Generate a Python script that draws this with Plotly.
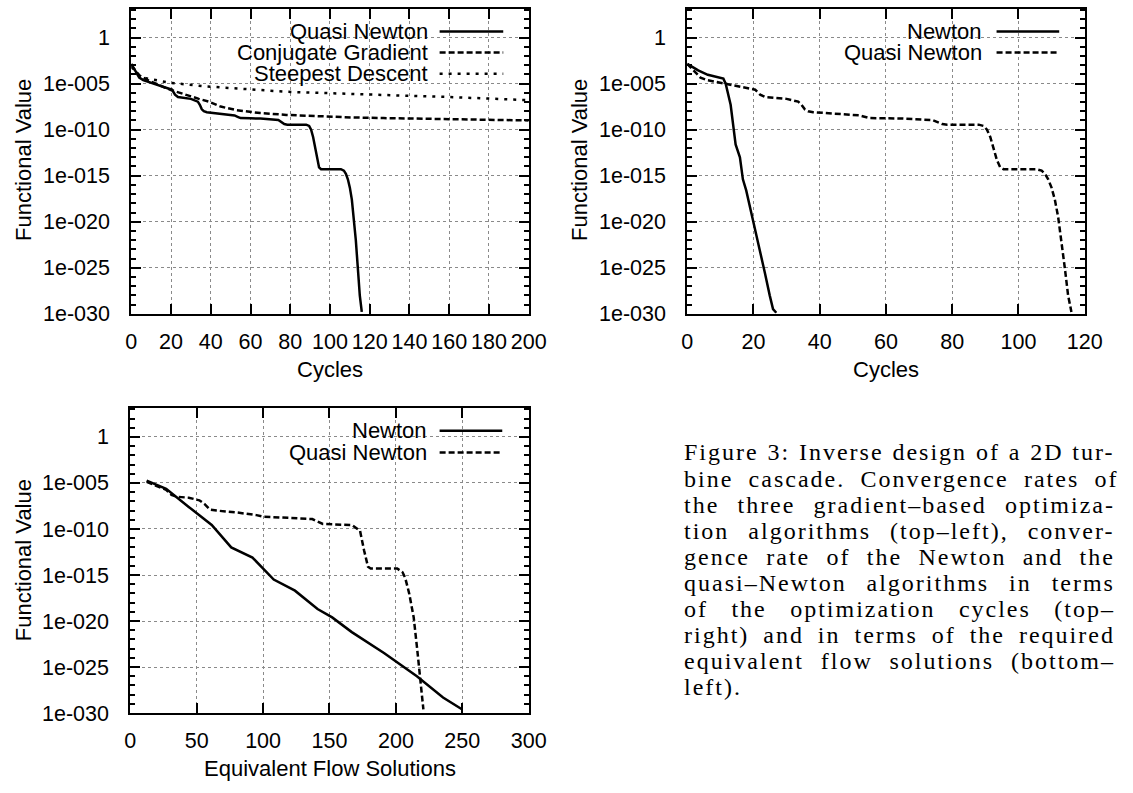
import plotly.graph_objects as go

W, H = 1133, 793

# ---------------- data ----------------
# top-left / top-right : functional value vs optimisation cycles
cycles_qn = [0, 1, 2, 3, 4, 6, 9, 12, 15, 19, 20.5, 22, 23.5, 26, 30, 33.5, 34.5, 35.5,
             36.5, 38, 44, 50, 52, 53.5, 55, 60, 65, 74, 75.5, 77, 78.5, 88, 89.5, 90.5,
             91.5, 92.5, 93.5, 94.5, 95.5, 105.5, 107, 108, 109, 110, 111, 112, 113, 114,
             115, 116]
f_qn = [1.4e-3, 6.3e-4, 2.5e-4, 1.0e-4, 4.5e-5, 2.4e-5, 1.4e-5, 8.9e-6, 5.0e-6, 2.8e-6,
        2.2e-6, 6.3e-7, 3.5e-7, 2.8e-7, 2.2e-7, 1.1e-7, 5.0e-8, 1.6e-8, 1.0e-8, 7.9e-9,
        5.6e-9, 4.0e-9, 3.5e-9, 2.5e-9, 1.8e-9, 1.7e-9, 1.6e-9, 1.1e-9, 7.1e-10, 4.0e-10,
        3.5e-10, 3.5e-10, 2.5e-10, 1.0e-10, 1.6e-11, 1.0e-12, 5.0e-14, 7.9e-15, 5.0e-15,
        5.0e-15, 3.5e-15, 1.6e-15, 4.0e-16, 5.0e-17, 2.5e-18, 3.2e-20, 1.0e-22, 1.0e-25,
        1.0e-28, 1.6e-30]

cycles_cg = [0, 2, 4, 8, 12, 16, 20, 25, 29, 34, 39, 45, 53, 65, 78, 94, 111, 127, 144,
             160, 177, 200]
f_cg = [1.0e-3, 2.5e-4, 7.9e-5, 2.5e-5, 1.0e-5, 4.5e-6, 2.0e-6, 8.9e-7, 4.4e-7, 2.2e-7,
        1.1e-7, 3.2e-8, 1.3e-8, 6.3e-9, 4.0e-9, 2.7e-9, 2.1e-9, 1.8e-9, 1.6e-9, 1.3e-9,
        1.2e-9, 1.0e-9]

cycles_sd = [0, 2, 4, 8, 12, 20, 37, 53, 78, 94, 111, 127, 144, 160, 177, 200]
f_sd = [6.3e-4, 2.0e-4, 7.9e-5, 3.5e-5, 2.3e-5, 1.2e-5, 5.1e-6, 2.9e-6, 1.3e-6, 1.0e-6,
        7.2e-7, 5.6e-7, 4.4e-7, 3.5e-7, 2.5e-7, 1.6e-7]

cycles_newton = [0, 3.3, 6.2, 9, 10.9, 11.6, 13.1, 14.6, 15.9, 16.8, 17.8, 19.5, 21.5,
                 23.4, 24.9, 25.9, 26.9]
f_newton = [1.4e-3, 2.7e-4, 9.1e-5, 5.0e-5, 3.5e-5, 1.0e-5, 5.0e-8, 2.5e-12, 1.0e-13,
            4.0e-16, 2.5e-17, 5.0e-20, 5.0e-23, 3.2e-26, 1.0e-28, 3.2e-30, 1.3e-30]

# bottom-left : functional value vs equivalent flow solutions
flow_newton = [12.3, 27, 44, 61.3, 76, 92, 108, 124, 141, 152, 166.8, 191.3, 215.8,
               235.5, 250]
f_flow_newton = [1.8e-5, 2.3e-6, 2.5e-8, 2.7e-10, 1.0e-12, 7.9e-14, 3.2e-16, 2.0e-17,
                 2.0e-19, 2.5e-20, 6.3e-22, 3.2e-24, 1.0e-26, 5.0e-29, 2.5e-30]

flow_qn = [12.3, 20, 27, 31, 35, 44, 52, 56, 60, 65, 80, 95, 100, 137, 141, 145, 167,
           173, 176, 179, 181, 201, 205, 207, 210, 213.4, 216, 218.3, 220.7]
f_flow_qn = [1.3e-5, 5.0e-6, 1.8e-6, 5.0e-7, 3.2e-7, 2.5e-7, 1.3e-7, 5.0e-8, 1.3e-8,
             1.0e-8, 6.3e-9, 3.2e-9, 2.2e-9, 1.2e-9, 7.1e-10, 3.5e-10, 2.7e-10, 6.3e-11,
             5.0e-13, 7.9e-15, 5.0e-15, 5.0e-15, 2.0e-15, 5.0e-16, 1.0e-17, 2.5e-20,
             1.0e-23, 1.0e-26, 2.5e-30]

ytick_vals = [1e-30, 1e-25, 1e-20, 1e-15, 1e-10, 1e-5, 1]
ytick_text = ["1e-030", "1e-025", "1e-020", "1e-015", "1e-010", "1e-005", "1"]
xticks_tl = [0, 20, 40, 60, 80, 100, 120, 140, 160, 180, 200]
xticks_tr = [0, 20, 40, 60, 80, 100, 120]
xticks_bl = [0, 50, 100, 150, 200, 250, 300]

caption_lines = [
    "Figure 3: Inverse design of a 2D tur-",
    "bine cascade. Convergence rates of",
    "the three gradient\u2013based optimiza-",
    "tion algorithms (top\u2013left), conver-",
    "gence rate of the Newton and the",
    "quasi\u2013Newton algorithms in terms",
    "of the optimization cycles (top\u2013",
    "right) and in terms of the required",
    "equivalent flow solutions (bottom\u2013",
    "left).",
]

# ---------------- layout helpers ----------------
FONT = "Liberation Sans, Arial, sans-serif"
SERIF = "Liberation Serif, Times New Roman, serif"
SOLID = "solid"
DASH = "6px,3px"
DOT = "3px,6px"
LW = 2.5
TICKFS = 21.5
TXTFS = 22


def px(x):
    return x / W


def py(y):
    return 1 - y / H


def xaxis(dom, rng, ticks, anchor):
    return dict(domain=[px(dom[0]), px(dom[1])], range=rng, anchor=anchor,
                tickmode="array", tickvals=ticks, ticks="inside", ticklen=10,
                tickwidth=1.5, tickcolor="black", showline=True, linecolor="black",
                linewidth=2, mirror="allticks", showgrid=True, gridcolor="#8a8a8a",
                griddash="dot", gridwidth=1, zeroline=False,
                tickfont=dict(family=FONT, size=TICKFS, color="black"),
                ticklabelstandoff=7)


def yaxis(dom, anchor):
    return dict(domain=[py(dom[1]), py(dom[0])], type="log", range=[-30, 3.12],
                anchor=anchor, tickmode="array", tickvals=ytick_vals,
                ticktext=ytick_text, ticks="inside", ticklen=10, tickwidth=1.5,
                tickcolor="black", showline=True, linecolor="black", linewidth=2,
                mirror="allticks", showgrid=True, gridcolor="#8a8a8a", griddash="dot",
                gridwidth=1, zeroline=False,
                minor=dict(tickmode="linear", tick0=0, dtick=1, ticks="inside",
                           ticklen=5, tickwidth=1.5, tickcolor="black", showgrid=False),
                tickfont=dict(family=FONT, size=TICKFS, color="black"),
                ticklabelstandoff=15)


TL = dict(x=(128, 534), y=(9, 319))
TR = dict(x=(696, 1102), y=(9, 319))
BL = dict(x=(127, 534), y=(415, 725))

fig = go.Figure()


def line(x, y, dash, xa, ya, name):
    fig.add_trace(go.Scatter(x=x, y=y, mode="lines", name=name, xaxis=xa, yaxis=ya,
                             line=dict(color="black", width=LW, dash=dash),
                             showlegend=False))


line(cycles_qn, f_qn, SOLID, "x", "y", "Quasi Newton")
line(cycles_cg, f_cg, DASH, "x", "y", "Conjugate Gradient")
line(cycles_sd, f_sd, DOT, "x", "y", "Steepest Descent")
line(cycles_newton, f_newton, SOLID, "x2", "y2", "Newton")
line(cycles_qn, f_qn, DASH, "x2", "y2", "Quasi Newton")
line(flow_newton, f_flow_newton, SOLID, "x3", "y3", "Newton")
line(flow_qn, f_flow_qn, DASH, "x3", "y3", "Quasi Newton")

shapes = []
annotations = []

# opaque legend boxes (hide grid behind key)
for (x0, x1, y0, y1) in [(188, 523, 9, 86), (835, 1094, 9, 67), (265, 523, 415, 473)]:
    shapes.append(dict(type="rect", xref="paper", yref="paper", x0=px(x0), x1=px(x1),
                       y0=py(y1), y1=py(y0), fillcolor="white", line=dict(width=0),
                       layer="between"))

legends = [
    (432, 443, 508, [("Quasi Newton", SOLID, 32), ("Conjugate Gradient", DASH, 53.5),
                     ("Steepest Descent", DOT, 75)]),
    (998, 1012, 1076, [("Newton", SOLID, 32), ("Quasi Newton", DASH, 53.5)]),
    (431, 443, 507, [("Newton", SOLID, 438), ("Quasi Newton", DASH, 460)]),
]
for tx, l0, l1, rows in legends:
    for label, dash, ry in rows:
        annotations.append(dict(text=label, x=px(tx), y=py(ry), xref="paper",
                                yref="paper", xanchor="right", yanchor="middle",
                                showarrow=False, borderpad=0,
                                font=dict(family=FONT, size=TXTFS, color="black")))
        shapes.append(dict(type="line", xref="paper", yref="paper", x0=px(l0),
                           x1=px(l1), y0=py(ry), y1=py(ry),
                           line=dict(color="black", width=LW, dash=dash)))

# axis titles
for text, x, y, ang in [("Functional Value", 18, 163, -90), ("Functional Value", 586, 163, -90),
                        ("Functional Value", 18, 570, -90), ("Cycles", 331, 376, 0),
                        ("Cycles", 899, 376, 0), ("Equivalent Flow Solutions", 331, 781, 0)]:
    annotations.append(dict(text=text, x=px(x), y=py(y), xref="paper", yref="paper",
                            xanchor="center", yanchor="middle", textangle=ang,
                            showarrow=False,
                            font=dict(family=FONT, size=TXTFS, color="black")))

# caption: justified paragraph (Times metrics used to spread the words)
TIMES_W = {' ': 250, 'a': 444, 'b': 500, 'c': 444, 'd': 500, 'e': 444, 'f': 333,
           'g': 500, 'h': 500, 'i': 278, 'j': 278, 'k': 500, 'l': 278, 'm': 778,
           'n': 500, 'o': 500, 'p': 500, 'q': 500, 'r': 333, 's': 389, 't': 278,
           'u': 500, 'v': 500, 'w': 722, 'x': 500, 'y': 500, 'z': 444, 'F': 556,
           'N': 722, 'D': 722, 'I': 333, '2': 500, '3': 500, ':': 278, '.': 250,
           ',': 250, '(': 333, ')': 333, '-': 333, '\u2013': 500}
CAP_FS = 24
CAP_X0, CAP_W = 691, 429
LETTER_SP = 2.0
for i, t in enumerate(caption_lines):
    nat = sum(TIMES_W.get(c, 500) for c in t) * CAP_FS / 1000.0
    nsp = t.count(' ')
    if i < len(caption_lines) - 1 and nsp > 0:
        ws = (CAP_W - nat - (len(t) - 1) * LETTER_SP) / nsp
    else:
        ws = 0
    html = '<span style="letter-spacing:%.2fpx;word-spacing:%.2fpx">%s</span>' % (
        LETTER_SP, ws, t)
    annotations.append(dict(text=html, x=px(CAP_X0), y=py(460 + 26.5 * i), xref="paper",
                            yref="paper", xanchor="left", yanchor="middle",
                            showarrow=False, align="left",
                            font=dict(family=SERIF, size=CAP_FS, color="black")))

fig.update_layout(
    width=W, height=H, margin=dict(l=0, r=0, t=0, b=0),
    paper_bgcolor="white", plot_bgcolor="white", showlegend=False,
    font=dict(family=FONT, size=TXTFS, color="black"),
    xaxis=xaxis(TL["x"], [0, 200], xticks_tl, "y"),
    yaxis=yaxis(TL["y"], "x"),
    xaxis2=xaxis(TR["x"], [0, 120], xticks_tr, "y2"),
    yaxis2=yaxis(TR["y"], "x2"),
    xaxis3=xaxis(BL["x"], [0, 300], xticks_bl, "y3"),
    yaxis3=yaxis(BL["y"], "x3"),
    shapes=shapes, annotations=annotations,
)

fig.write_html("out.html")
